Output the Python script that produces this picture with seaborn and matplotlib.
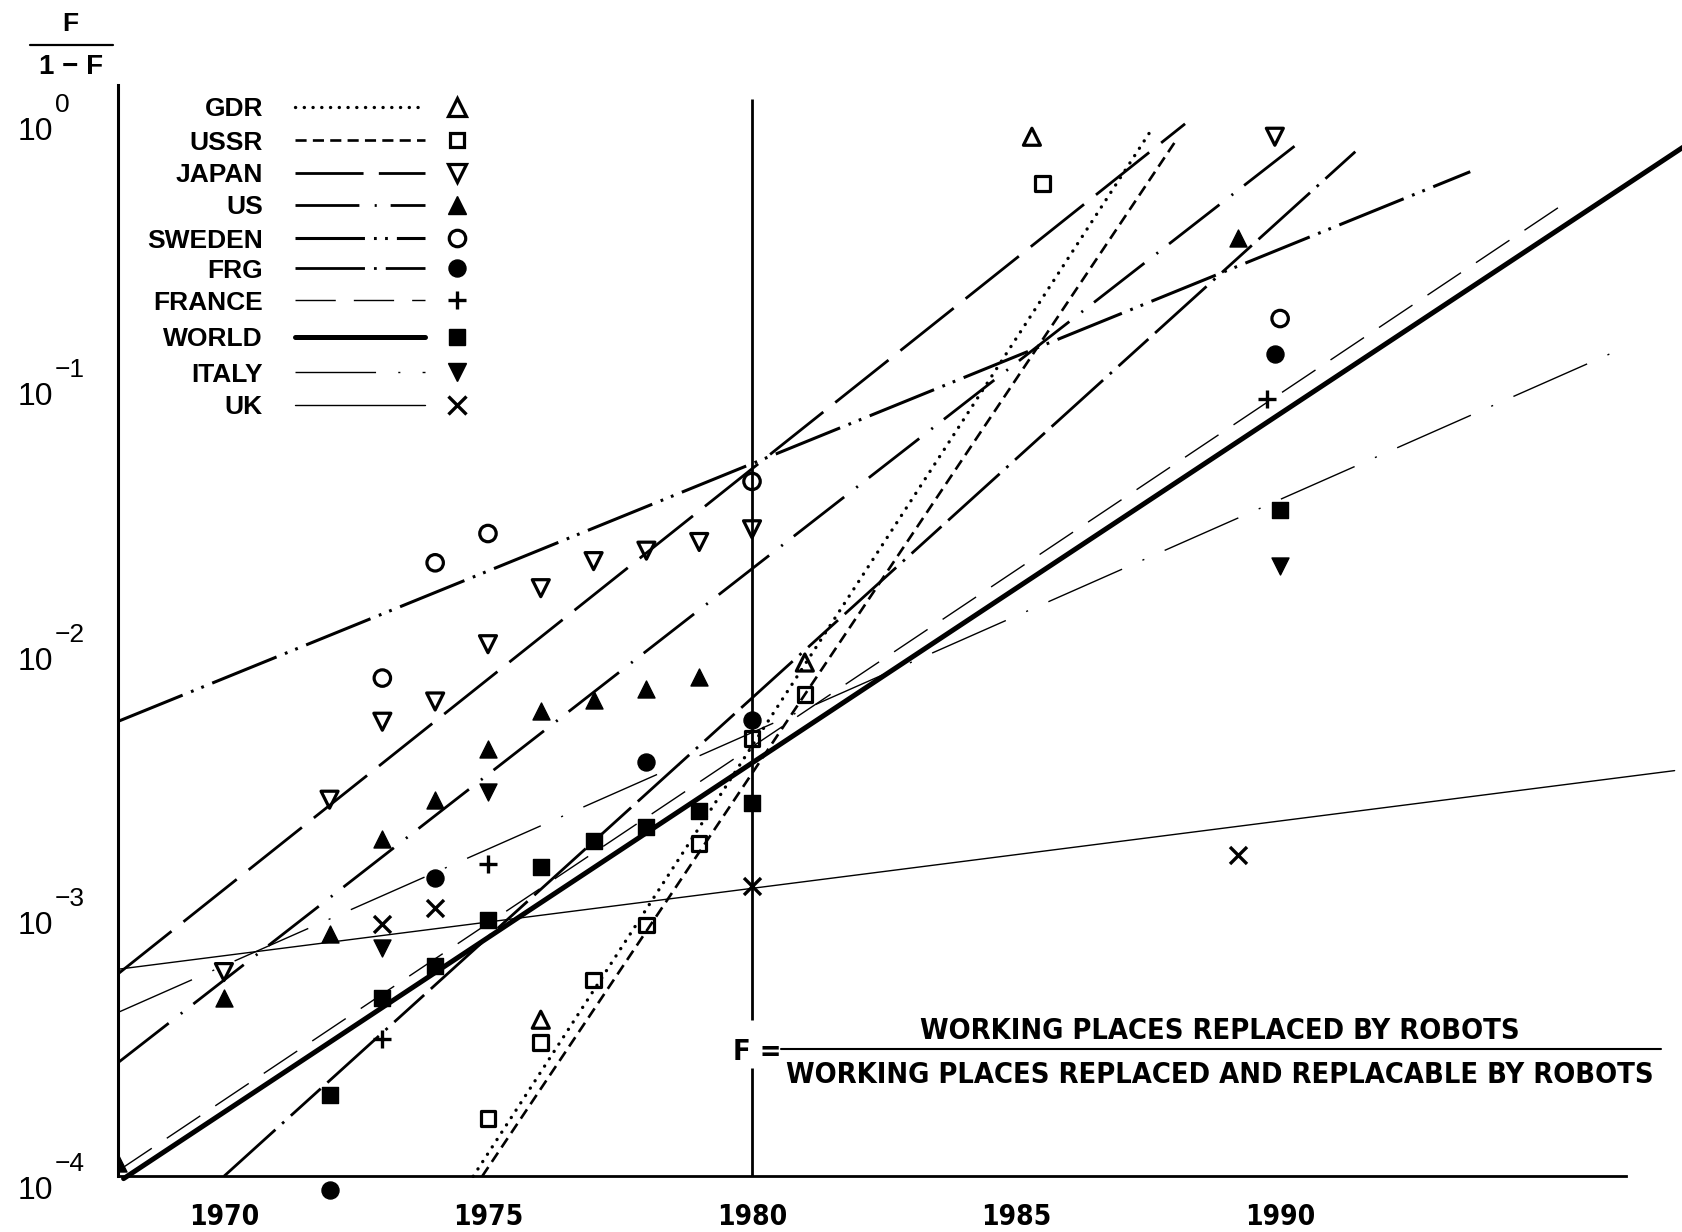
import matplotlib
matplotlib.use('Agg')
import matplotlib.pyplot as plt
import matplotlib.transforms as mtransforms
from matplotlib.lines import Line2D
from matplotlib import font_manager
from matplotlib.ticker import FixedLocator, NullFormatter
import seaborn as sns

# ---- values, y = F/(1-F) ----
countries = ['GDR', 'USSR', 'JAPAN', 'US', 'SWEDEN', 'FRG', 'FRANCE', 'WORLD', 'ITALY', 'UK']

gdr_years = [1976, 1981, 1985.3]
gdr_vals = [3.9e-4, 8.7e-3, 0.84]
ussr_years = [1975, 1976, 1977, 1978, 1979, 1980, 1981, 1985.5]
ussr_vals = [1.65e-4, 3.2e-4, 5.5e-4, 8.9e-4, 1.8e-3, 4.5e-3, 6.6e-3, 0.56]
japan_years = [1970, 1972, 1973, 1974, 1975, 1976, 1977, 1978, 1979, 1980, 1989.9]
japan_vals = [5.9e-4, 2.64e-3, 5.2e-3, 6.2e-3, 1.02e-2, 1.66e-2, 2.1e-2, 2.3e-2, 2.48e-2, 2.77e-2, 0.84]
us_years = [1968, 1970, 1972, 1973, 1974, 1975, 1976, 1977, 1978, 1979, 1989.2]
us_vals = [1.12e-4, 4.7e-4, 8.2e-4, 1.87e-3, 2.64e-3, 4.1e-3, 5.7e-3, 6.3e-3, 6.9e-3, 7.7e-3, 0.347]
sweden_years = [1973, 1974, 1975, 1980, 1990]
sweden_vals = [7.6e-3, 2.07e-2, 2.67e-2, 4.2e-2, 0.173]
frg_years = [1972, 1974, 1978, 1980, 1989.9]
frg_vals = [8.9e-5, 1.34e-3, 3.66e-3, 5.3e-3, 0.127]
france_years = [1973, 1975, 1989.75]
france_vals = [3.3e-4, 1.51e-3, 0.0857]
world_years = [1972, 1973, 1974, 1975, 1976, 1977, 1978, 1979, 1980, 1990]
world_vals = [2.03e-4, 4.7e-4, 6.2e-4, 9.3e-4, 1.47e-3, 1.84e-3, 2.09e-3, 2.4e-3, 2.57e-3, 0.0328]
italy_years = [1973, 1975, 1990]
italy_vals = [7.3e-4, 2.82e-3, 0.0202]
uk_years = [1973, 1974, 1980, 1989.2]
uk_vals = [9.0e-4, 1.03e-3, 1.25e-3, 1.63e-3]

point_years = [gdr_years, ussr_years, japan_years, us_years, sweden_years,
               frg_years, france_years, world_years, italy_years, uk_years]
point_vals = [gdr_vals, ussr_vals, japan_vals, us_vals, sweden_vals,
              frg_vals, france_vals, world_vals, italy_vals, uk_vals]

# trend lines, one straight segment per country (same order as countries)
trend_start_year = [1974.72, 1974.89, 1968.0, 1968.0, 1968.0, 1970.0, 1968.0, 1968.1, 1968.0, 1968.0]
trend_start_val = [1.0e-4, 1.0e-4, 5.82e-4, 2.69e-4, 5.22e-3, 1.0e-4, 1.05e-4, 9.8e-5, 4.16e-4, 6.05e-4]
trend_end_year = [1987.59, 1988.04, 1988.2, 1990.33, 1993.6, 1991.45, 1995.43, 1997.63, 1996.35, 1997.47]
trend_end_val = [0.91, 0.82, 0.94, 0.79, 0.62, 0.746, 0.477, 0.767, 0.130, 3.40e-3]

y_ticks = [1e-4, 1e-3, 1e-2, 1e-1, 1]
y_exponents = ['\u22124', '\u22123', '\u22122', '\u22121', '0']
x_ticks = [1970, 1975, 1980, 1985, 1990]

# ---- styles ----
line_styles = [(0, (0.1, 6.2)), (0, (8, 4.5)), (0, (49, 11)), (0, (46, 11, 1.5, 10)),
               (0, (50, 6.5, 2, 6, 2, 6.5)), (0, (50, 6.5, 2, 6.5, 29, 6.5)),
               (0, (29, 13)), '-', (0, (58, 16, 1.5, 16)), '-']
line_widths = [2.4, 1.9, 2.0, 2.0, 2.2, 2.0, 1.0, 3.6, 1.0, 1.0]
markers = ['^', 's', 'v', '^', 'o', 'o', '+', 's', 'v', 'x']
filled = [False, False, False, True, False, True, True, True, True, True]
marker_area = [150, 110, 150, 150, 140, 150, 170, 120, 150, 150]

sns.set_style('white', rc={'axes.edgecolor': 'k', 'xtick.color': 'k', 'ytick.color': 'k',
                           'text.color': 'k'})
plt.rcParams['font.family'] = ['Liberation Sans', 'DejaVu Sans']
plt.rcParams['lines.scale_dashes'] = False

names = {f.name for f in font_manager.fontManager.ttflist}
if 'Liberation Sans Narrow' in names:
    narrow = dict(family='Liberation Sans Narrow')
    nscale = 1.0
else:
    narrow = dict(family='DejaVu Sans', stretch='condensed')
    nscale = 0.84

W, H = 1683, 1232
fig = plt.figure(figsize=(W / 100, H / 100), dpi=100)
px = mtransforms.Affine2D().scale(1 / W, -1 / H).translate(0, 1) + fig.transFigure

x0_px, yr_px = 118.3, 52.81     # 1968 and pixels per year
y0_px, dec_px = 116.7, 264.9    # 10^0 and pixels per decade
ax_top, ax_bot = 60, 1205
ax = fig.add_axes([x0_px / W, 1 - ax_bot / H, 1 - x0_px / W, (ax_bot - ax_top) / H])
ax.set_yscale('log')

for i, name in enumerate(countries):
    ax.plot([trend_start_year[i], trend_end_year[i]], [trend_start_val[i], trend_end_val[i]],
            color='k', lw=line_widths[i], linestyle=line_styles[i],
            dash_capstyle='round' if i == 0 else 'butt', zorder=2)

for i, name in enumerate(countries):
    kw = dict(marker=markers[i], s=marker_area[i], ax=ax, zorder=4, legend=False)
    if markers[i] in '+x':
        kw.update(color='k', linewidth=2.4)
    elif filled[i]:
        kw.update(color='k', edgecolor='k', linewidth=1)
    else:
        kw.update(facecolor='none', edgecolor='k', linewidth=2.3)
    sns.scatterplot(x=point_years[i], y=point_vals[i], **kw)

# 1980 reference line, broken where the formula sits
ax.vlines(1980, 1e-4, 10 ** -3.59, color='k', lw=2.0, zorder=3)
ax.vlines(1980, 10 ** -3.41, 10 ** 0.068, color='k', lw=2.0, zorder=3)

ax.set_xlim(1968, 1968 + (W - x0_px) / yr_px)
ax.set_ylim(10 ** ((y0_px - ax_bot) / dec_px), 10 ** ((y0_px - ax_top) / dec_px))

ax.spines[['top', 'right']].set_visible(False)
ax.spines['left'].set_bounds(1e-4, 10 ** 0.12)
ax.spines['left'].set_linewidth(2.2)
ax.spines['bottom'].set_position(('data', 1e-4))
ax.spines['bottom'].set_bounds(1968, 1996.55)
ax.spines['bottom'].set_linewidth(2.0)

ax.set_xticks(x_ticks)
ax.set_xticklabels([str(t) for t in x_ticks], fontsize=24 * nscale,
                   fontweight='bold', **narrow)
ax.yaxis.set_major_locator(FixedLocator(y_ticks))
ax.set_yticklabels(['10'] * len(y_ticks))
ax.yaxis.set_minor_locator(FixedLocator([5e-4, 5e-3, 5e-2, 0.5]))
ax.yaxis.set_minor_formatter(NullFormatter())
ax.xaxis.set_minor_locator(FixedLocator([]))
ax.tick_params(axis='y', which='both', direction='inout', length=11.5, width=1.6, pad=67,
               labelsize=23)
ax.tick_params(axis='x', which='both', direction='inout', length=11, width=1.6, pad=14)
for lab in ax.get_yticklabels():
    lab.set_ha('left')
    lab.set_va('top')
# exponents of the y tick labels
ex_tr = mtransforms.blended_transform_factory(px, ax.transData)
for v, e in zip(y_ticks, y_exponents):
    ax.text(55, v, e, transform=ex_tr, ha='left', va='bottom', fontsize=19, clip_on=False)

# y label as a fraction
fig.text(70, 31, 'F', transform=px, ha='center', va='baseline', fontsize=19, fontweight='bold')
fig.add_artist(Line2D([30, 113], [45, 45], transform=px, color='k', lw=1.6))
fig.text(71, 74, '1 \u2212 F', transform=px, ha='center', va='baseline', fontsize=20,
         fontweight='bold')

# legend: name, line sample, marker
legend_rows = [107, 140, 173, 205, 238, 268, 300, 337, 372, 405]
for i, name in enumerate(countries):
    yy = legend_rows[i]
    fig.text(263, yy + 9.5, name, transform=px, ha='right', va='baseline', fontsize=19,
             fontweight='bold')
    fig.add_artist(Line2D([295, 425], [yy, yy], transform=px, color='k', lw=line_widths[i],
                          linestyle=line_styles[i],
                          dash_capstyle='round' if i == 0 else 'butt'))
    ms = marker_area[i] ** 0.5
    if markers[i] in '+x':
        mk = dict(color='k', mew=2.4)
    elif filled[i]:
        mk = dict(mfc='k', mec='k', mew=1)
    else:
        mk = dict(mfc='none', mec='k', mew=2.3)
    fig.add_artist(Line2D([457], [yy], transform=px, marker=markers[i], ms=ms, lw=0, **mk))

# definition of F
fsize = 24 * nscale * (1.0 if nscale == 1.0 else 1.03)
fig.text(757, 1060, 'F =', transform=px, ha='center', va='baseline', fontsize=fsize,
         fontweight='bold', **narrow)
fig.add_artist(Line2D([781, 1661], [1049, 1049], transform=px, color='k', lw=1.5))
fig.text(1220, 1039, 'WORKING PLACES REPLACED BY ROBOTS', transform=px, ha='center',
         va='baseline', fontsize=fsize, fontweight='bold', **narrow)
fig.text(1220, 1083, 'WORKING PLACES REPLACED AND REPLACABLE BY ROBOTS', transform=px,
         ha='center', va='baseline', fontsize=fsize, fontweight='bold', **narrow)

fig.savefig('out.png', dpi=100)
